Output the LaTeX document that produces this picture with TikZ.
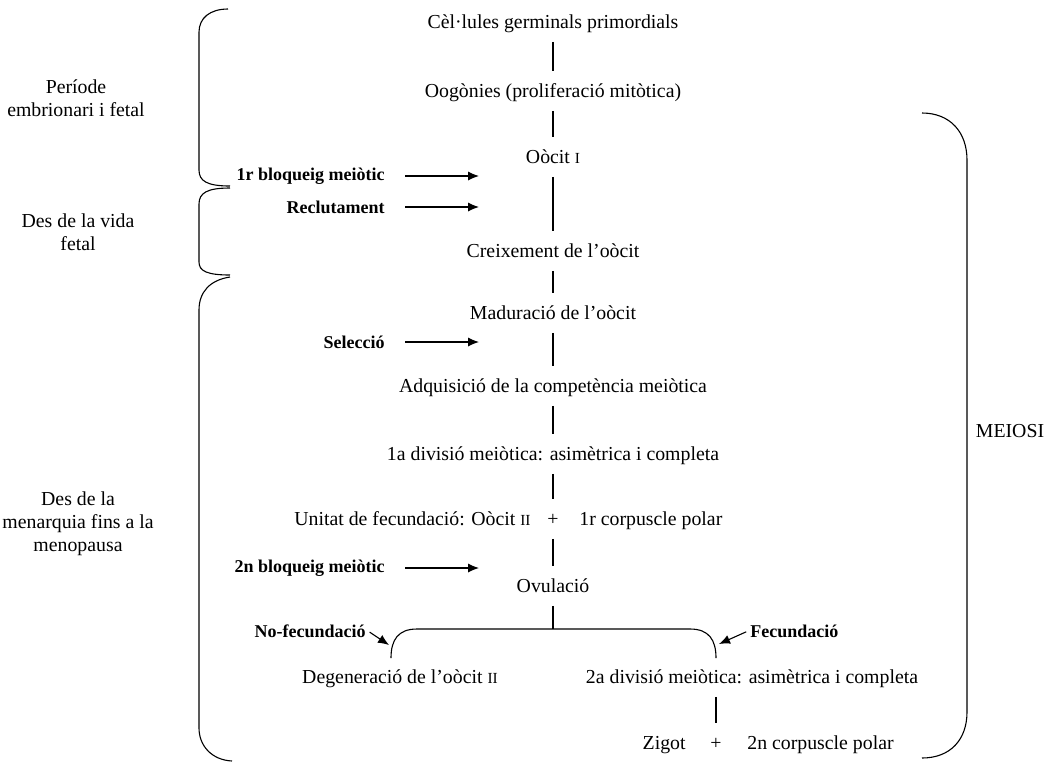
\documentclass[tikz,border=0pt]{standalone}
\usepackage{fontspec}
\setmainfont{Liberation Serif}
\usetikzlibrary{arrows,arrows.meta,positioning}

\newcommand{\rsc}[1]{{\fontsize{7.7}{8}\selectfont #1}}

\tikzset{
  stage/.style={inner sep=1pt, text height=7.2pt, text depth=2.3pt, font=\fontsize{9.9}{12}\selectfont},
  ctrl/.style={inner sep=1pt, anchor=east, font=\fontsize{9}{11}\selectfont\bfseries},
  side/.style={inner sep=1pt, align=center, font=\fontsize{9.9}{11.4}\selectfont},
  link/.style={line width=0.55pt, shorten <=3pt, shorten >=5pt},
  arr/.style={-{Latex[length=5.5pt,width=4.6pt]}, line width=0.55pt, shorten <=9pt},
  brk/.style={line width=0.55pt}
}

\begin{document}
\begin{tikzpicture}[x=0.5pt, y=-0.5pt]
\useasboundingbox (0,0) rectangle (1055,762);

% main column
\node[stage] (cel) at (553,24) {Cèl·lules germinals primordials};
\node[stage] (oog) at (553,93) {Oogònies (proliferació mitòtica)};
\node[stage] (oo1) at (553,159) {Oòcit \rsc{I}};
\node[stage] (crx) at (553,253) {Creixement de l’oòcit};
\node[stage] (mad) at (553,315) {Maduració de l’oòcit};
\node[stage] (adq) at (553,388) {Adquisició de la competència meiòtica};
\node[stage] (dv1) at (553,456) {1a divisió meiòtica: asimètrica i completa};
\node[stage] (upl) at (553,521) {+};
\node[stage, left=6pt of upl] (uoo) {Unitat de fecundació: Oòcit \rsc{II}};
\node[stage, right=8pt of upl] (ucp) {1r corpuscle polar};
\node[stage] (ovu) at (553,588) {Ovulació};

\draw[link] (cel) -- (oog);
\draw[link] (oog) -- (oo1);
\draw[link] (oo1) -- (crx);
\draw[link] (crx) -- (mad);
\draw[link] (mad) -- (adq);
\draw[link] (adq) -- (dv1);
\draw[link] (dv1) -- (upl);
\draw[link] (upl) -- (ovu);

% controls
\node[ctrl] (bl1) at (387,176) {1r bloqueig meiòtic};
\node[ctrl] (rcl) at (387,207) {Reclutament};
\node[ctrl] (sel) at (387,342) {Selecció};
\node[ctrl] (bl2) at (387,568) {2n bloqueig meiòtic};
\coordinate (bl1h) at (479,176);
\coordinate (rclh) at (479,207);
\coordinate (selh) at (479,342);
\coordinate (bl2h) at (479,568);
\draw[arr] (bl1) -- (bl1h);
\draw[arr] (rcl) -- (rclh);
\draw[arr] (sel) -- (selh);
\draw[arr] (bl2) -- (bl2h);

% fork
\coordinate (fk) at (553,629);
\coordinate (legl) at (391,658);
\coordinate (legr) at (716,658);
\draw[brk, shorten <=3pt] (ovu) -- (fk);
\draw[brk] (legl) .. controls (391,640) and (398,629) .. (417,629) -- (fk)
  -- (690,629) .. controls (709,629) and (716,640) .. (legr);

\node[stage] (deg) at (400,679) {Degeneració de l’oòcit \rsc{II}};
\node[stage] (dv2) at (752,679) {2a divisió meiòtica: asimètrica i completa};
\node[ctrl] (nof) at (368,631) {No-fecundació};
\node[ctrl, anchor=west] (fec) at (748,631) {Fecundació};
\coordinate (nofh) at (389,645);
\coordinate (fech) at (719,644);
\draw[arr, shorten <=1pt] (nof.east) -- (nofh);
\draw[arr, shorten <=1pt] (fec.west) -- (fech);

\node[stage] (zpl) at (716,745) {+};
\node[stage, left=10pt of zpl] (zig) {Zigot};
\node[stage, right=10.5pt of zpl] (zcp) {2n corpuscle polar};
\draw[link] (dv2.south -| zpl) -- (zpl);

% side labels
\node[side] (emb) at (76,98) {Període\\embrionari i fetal};
\node[side] (fet) at (78,232) {Des de la vida\\fetal};
\node[side] (men) at (78,524) {Des de la\\menarquia fins a la\\menopausa};
\node[stage] (mei) at (1010,433) {MEIOSI};

% braces
\draw[brk] (228,9) .. controls (210,9) and (199,18) .. (199,32) -- (199,170)
  .. controls (199,181) and (207,186) .. (230,186);
\draw[brk] (230,188) .. controls (207,188) and (199,193) .. (199,204) -- (199,262)
  .. controls (199,271) and (207,275) .. (230,275);
\draw[brk] (230,277) .. controls (210,280) and (199,292) .. (199,310) -- (199,728)
  .. controls (199,746) and (212,760) .. (232,761);
\draw[brk] (922,113) .. controls (950,113) and (967,132) .. (967,160) -- (967,712)
  .. controls (967,740) and (950,758) .. (922,758);
\end{tikzpicture}
\end{document}
